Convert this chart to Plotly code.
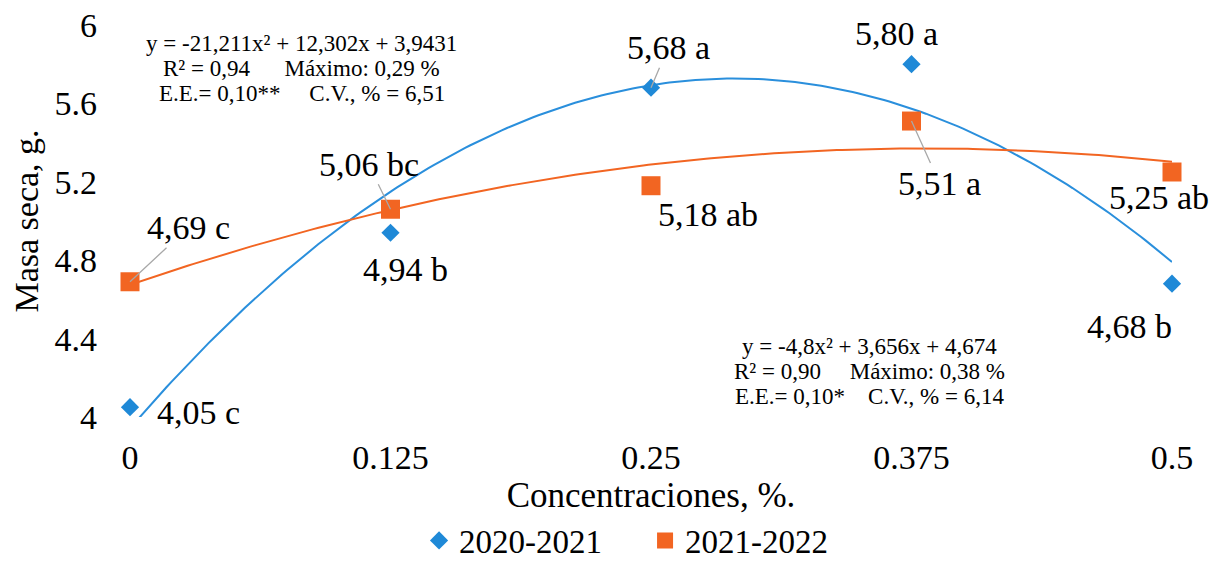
import numpy as np
import plotly.graph_objects as go

# ---- data ----
concentraciones = [0, 0.125, 0.25, 0.375, 0.5]
x_tick_labels = ["0", "0.125", "0.25", "0.375", "0.5"]
y_tick_values = [4, 4.4, 4.8, 5.2, 5.6, 6]
y_tick_labels = ["4", "4.4", "4.8", "5.2", "5.6", "6"]

serie_2020 = [4.05, 4.94, 5.68, 5.80, 4.68]
letras_2020 = ["c", "b", "a", "a", "b"]
serie_2021 = [4.69, 5.06, 5.18, 5.51, 5.25]
letras_2021 = ["c", "bc", "ab", "a", "ab"]

nombre_2020 = "2020-2021"
nombre_2021 = "2021-2022"

eq_2020 = ["y = -21,211x² + 12,302x + 3,9431",
           "R² = 0,94\u00a0\u00a0\u00a0\u00a0\u00a0\u00a0Máximo: 0,29 %",
           "E.E.= 0,10**\u00a0\u00a0\u00a0\u00a0\u00a0C.V., % = 6,51"]
eq_2021 = ["y = -4,8x² + 3,656x + 4,674",
           "R² = 0,90\u00a0\u00a0\u00a0\u00a0\u00a0Máximo: 0,38 %",
           "E.E.= 0,10*\u00a0\u00a0\u00a0\u00a0C.V., % = 6,14"]

# ---- styles ----
FONT = "Liberation Serif"
BLUE = "#1F89D7"
ORANGE = "#F26522"
GRAY = "#A8A8A8"
LABEL_SIZE = 34

# label placement: (mode, dx, dy) screen pixels (dy positive = down)
pos_2020 = [("shift", 68, 5), ("shift", 15, 37), ("arrow", 17, -40), ("shift", -15, -31), ("shift", -43, 43)]
pos_2021 = [("arrow", 58, -54), ("arrow", -22, -45), ("shift", 57, 29), ("arrow", 28, 62), ("shift", -13, 25)]

fig = go.Figure()

xs = np.linspace(0, 0.5, 200)
for y, color in [(serie_2020, "#2A8FDC"), (serie_2021, ORANGE)]:
    coef = np.polyfit(concentraciones, y, 2)
    fig.add_trace(go.Scatter(x=xs, y=np.polyval(coef, xs), mode="lines",
                             line=dict(color=color, width=2), showlegend=False,
                             hoverinfo="skip"))

fig.add_trace(go.Scatter(x=concentraciones, y=serie_2020, mode="markers", name=nombre_2020,
                         marker=dict(symbol="diamond", size=14, color=BLUE), cliponaxis=False))
fig.add_trace(go.Scatter(x=concentraciones, y=serie_2021, mode="markers", name=nombre_2021,
                         marker=dict(symbol="square", size=19, color=ORANGE), cliponaxis=False))

def fmt(v):
    return f"{v:.2f}".replace(".", ",")

annotations = []
for serie, letras, pos in [(serie_2020, letras_2020, pos_2020), (serie_2021, letras_2021, pos_2021)]:
    for xv, yv, let, (mode, dx, dy) in zip(concentraciones, serie, letras, pos):
        txt = f"{fmt(yv)} {let}"
        if mode == "arrow":
            annotations.append(dict(x=xv, y=yv, xref="x", yref="y", text=txt, showarrow=True,
                                    ax=dx, ay=dy, arrowhead=0, arrowwidth=1.3, arrowcolor=GRAY,
                                    standoff=0, font=dict(family=FONT, size=LABEL_SIZE, color="black")))
        else:
            annotations.append(dict(x=xv, y=yv, xref="x", yref="y", text=txt, showarrow=False,
                                    xshift=dx, yshift=-dy, xanchor="center", yanchor="middle",
                                    font=dict(family=FONT, size=LABEL_SIZE, color="black")))

# equation blocks, one annotation per line for tight line spacing
for lines, cx, cy in [(eq_2020, 0.165, 0.89), (eq_2021, 0.71, 0.115)]:
    for i, line in enumerate(lines):
        annotations.append(dict(x=cx, y=cy, xref="paper", yref="paper", text=line,
                                showarrow=False, yshift=(1 - i) * 25,
                                xanchor="center", yanchor="middle",
                                font=dict(family=FONT, size=23, color="black")))

fig.update_layout(
    width=1225, height=561,
    margin=dict(l=122, r=61, t=17, b=152, autoexpand=False),
    paper_bgcolor="white", plot_bgcolor="white",
    font=dict(family=FONT, size=34, color="black"),
    annotations=annotations,
    legend=dict(orientation="h", x=0.2774, xanchor="left", y=-0.315, yanchor="middle",
                font=dict(family=FONT, size=33, color="black"), itemwidth=30,
                entrywidth=181, entrywidthmode="pixels",
                bgcolor="rgba(0,0,0,0)"),
    xaxis=dict(range=[0, 0.5], tickvals=concentraciones, ticktext=x_tick_labels,
               showgrid=False, zeroline=False, showline=False, ticks="", automargin=False,
               ticklabelstandoff=17, ticklabeloverflow="allow",
               title=dict(text="Concentraciones, %.", font=dict(family=FONT, size=35), standoff=3),
               tickfont=dict(family=FONT, size=34)),
    yaxis=dict(range=[4, 6], tickvals=y_tick_values, ticktext=y_tick_labels,
               showgrid=False, zeroline=False, showline=False, ticks="", automargin=False,
               ticklabelstandoff=32, ticklabeloverflow="allow",
               title=dict(text="Masa seca, g.", font=dict(family=FONT, size=34), standoff=12),
               tickfont=dict(family=FONT, size=34)),
)

fig.write_html("out.html")
